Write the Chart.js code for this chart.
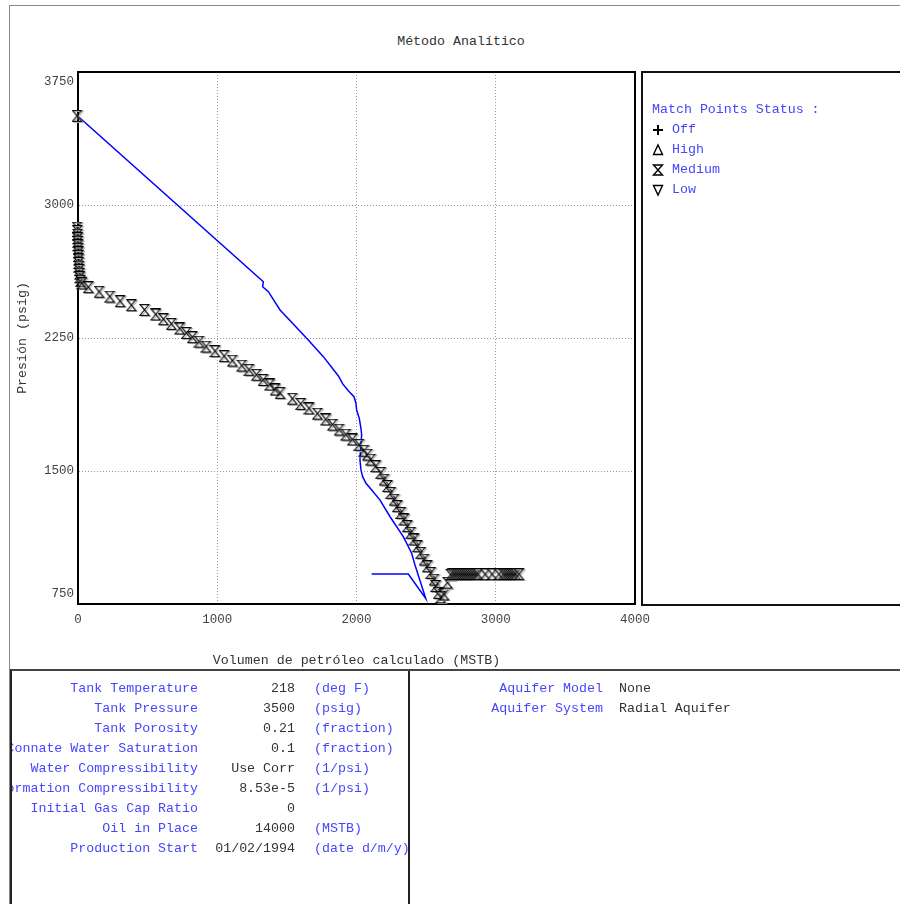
<!DOCTYPE html>
<html>
<head>
<meta charset="utf-8">
<script src="https://cdn.jsdelivr.net/npm/chart.js@4.4.1/dist/chart.umd.min.js"></script>
<style>
  html, body { margin:0; padding:0; background:#fff; }
  body { width:900px; height:904px; position:relative; overflow:hidden; font-family:'Liberation Mono', monospace; }
  .abs { position:absolute; }
  .t { position:absolute; font-size:13.3px; line-height:20px; white-space:pre; }
  .lbl { color:#4646ff; }
  .val { color:#333; }
</style>
</head>
<body>
<div class="abs" style="left:9px;top:5px;width:1px;height:899px;background:#888"></div>
<div class="abs" style="left:9px;top:5px;width:891px;height:1px;background:#888"></div>
<div class="abs" style="left:0;top:34px;width:922px;text-align:center;font-size:13.3px;color:#333">Método Analítico</div>

<div class="abs" style="left:0;top:0;width:670px;height:670px"><canvas id="c" width="670" height="670" style="width:670px;height:670px"></canvas></div>

<div class="abs" style="left:641px;top:71px;width:300px;height:531px;border:2px solid #111;border-right:none">
  <div class="t lbl" style="left:9px;top:27px">Match Points Status :</div>
  <svg class="abs" style="left:8px;top:50px" width="14" height="14"><path d="M7 2 V12 M2 7 H12" stroke="#000" stroke-width="2" fill="none"/></svg>
  <div class="t lbl" style="left:29px;top:47px">Off</div>
  <svg class="abs" style="left:8px;top:70px" width="14" height="14"><path d="M7 2 L11.5 11.5 H2.5 Z" stroke="#000" stroke-width="1.4" fill="none"/></svg>
  <div class="t lbl" style="left:29px;top:67px">High</div>
  <svg class="abs" style="left:8px;top:90px" width="14" height="14"><path d="M2.5 2 H11.5 L2.5 12 H11.5 Z" stroke="#000" stroke-width="1.4" fill="none"/></svg>
  <div class="t lbl" style="left:29px;top:87px">Medium</div>
  <svg class="abs" style="left:8px;top:110px" width="14" height="14"><path d="M2.5 2.5 H11.5 L7 12 Z" stroke="#000" stroke-width="1.4" fill="none"/></svg>
  <div class="t lbl" style="left:29px;top:107px">Low</div>
</div>

<div class="abs" id="boxL" style="left:10px;top:669px;width:396px;height:260px;border-left:2px solid #222;border-top:2px solid #444;border-right:2px solid #222;overflow:hidden"></div>
<div class="abs" id="boxR" style="left:408px;top:669px;width:500px;height:260px;border-top:2px solid #444;overflow:hidden"></div>

<script>
// ---------- data ----------
const tableLabels = ['Tank Temperature','Tank Pressure','Tank Porosity','Connate Water Saturation','Water Compressibility','Formation Compressibility','Initial Gas Cap Ratio','Oil in Place','Production Start'];
const tableValues = ['218','3500','0.21','0.1','Use Corr','8.53e-5','0','14000','01/02/1994'];
const tableUnits  = ['(deg F)','(psig)','(fraction)','(fraction)','(1/psi)','(1/psi)','','(MSTB)','(date d/m/y)'];
const aquiferLabels = ['Aquifer Model','Aquifer System'];
const aquiferValues = ['None','Radial Aquifer'];

const xTicks = [0, 1000, 2000, 3000, 4000];
const yTicks = [750, 1500, 2250, 3000, 3750];

// match points (Medium status): volume MSTB, pressure psig
const matchVolume = [0,
  0,2,4,5,6,7,8,9,10,11,12,14,16,18,20,25,35,
  81,158,235,309,390,484,565,620,677,737,785,828,876,926,991,1056,1115,1183,1235,1288,1336,1384,1422,1458,
  1546,1606,1666,1726,1786,1834,1882,1930,1977,2025,2061,2085,2109,2145,2181,2205,2229,2253,2277,2300,2325,
  2348,2372,2396,2420,2444,2468,2492,2515,2540,2564,2576,2594,2612,2636,2660,2683,
  2700,2715,2730,2745,2760,2775,2790,2805,2820,2835,2850,2865,2880,2930,2980,3030,3060,3075,3090,3105,3120,3135,3150,3174];
const matchPressure = [3500,
  2870,2850,2830,2810,2790,2770,2750,2730,2710,2690,2670,2650,2630,2610,2590,2570,2555,
  2534,2508,2481,2455,2432,2406,2380,2353,2327,2301,2276,2252,2227,2199,2173,2145,2120,2092,2068,2040,2011,1985,1957,1938,
  1905,1876,1850,1821,1788,1759,1731,1703,1675,1645,1612,1590,1562,1524,1487,1449,1412,1374,1336,1299,1261,
  1224,1186,1149,1111,1073,1036,998,960,923,885,848,810,785,801,868,913,
  915,915,915,915,915,915,915,915,915,915,915,915,915,915,915,915,915,915,915,915,915,915,915,915];

// calculated (analytic) pressure vs volume
const calcVolume = [0,1331,1326,1367,1451,1642,1762,1870,1901,1941,1982,1996,2001,2020,2032,2037,2030,2025,2032,2044,2068,2109,2169,2241,2336,2396,2420,2497,2372,2109];
const calcPressure = [3500,2567,2539,2511,2408,2248,2145,2036,1991,1953,1919,1882,1844,1797,1741,1703,1637,1562,1506,1468,1431,1393,1336,1242,1130,1036,970,782,919,919];

// ---------- tables (HTML text) ----------
const boxL = document.getElementById('boxL');
tableLabels.forEach((s,i) => {
  const top = 8 + i*20;
  boxL.insertAdjacentHTML('beforeend',
    `<div class="t lbl" style="left:-200px;width:386px;text-align:right;top:${top}px">${s}</div>` +
    `<div class="t val" style="left:0;width:283px;text-align:right;top:${top}px">${tableValues[i]}</div>` +
    `<div class="t lbl" style="left:302px;top:${top}px">${tableUnits[i]}</div>`);
});
const boxR = document.getElementById('boxR');
aquiferLabels.forEach((s,i) => {
  const top = 8 + i*20;
  boxR.insertAdjacentHTML('beforeend',
    `<div class="t lbl" style="left:0;width:195px;text-align:right;top:${top}px">${s}</div>` +
    `<div class="t val" style="left:211px;top:${top}px">${aquiferValues[i]}</div>`);
});

// ---------- hourglass marker ----------
const pm = document.createElement('canvas');
pm.width = 13; pm.height = 13;
const g = pm.getContext('2d');
function hg(ox, oy, col, lw) {
  g.beginPath();
  g.moveTo(ox, oy); g.lineTo(ox + 9, oy); g.lineTo(ox, oy + 11); g.lineTo(ox + 9, oy + 11); g.closePath();
  g.strokeStyle = col; g.lineWidth = lw; g.stroke();
}
hg(2.5, 1.5, '#b0b0b0', 1.1);
hg(1, 0.5, '#000', 1.1);

// ---------- chart ----------
Chart.defaults.font.family = "'Liberation Mono', monospace";
const frame = {
  id: 'frame',
  beforeDatasetsDraw(chart) {
    const {ctx, chartArea: a} = chart;
    ctx.save();
    ctx.strokeStyle = '#000';
    ctx.lineWidth = 2;
    ctx.strokeRect(a.left, a.top, a.right - a.left, a.bottom - a.top);
    ctx.restore();
  }
};

new Chart(document.getElementById('c'), {
  type: 'scatter',
  data: {
    datasets: [
      {
        label: 'Calculado',
        data: calcVolume.map((v, i) => ({x: v, y: calcPressure[i]})),
        showLine: true,
        borderColor: '#0000ff',
        borderWidth: 1.5,
        pointRadius: 0,
        tension: 0,
        order: 2
      },
      {
        label: 'Medium',
        data: matchVolume.map((v, i) => ({x: v, y: matchPressure[i]})),
        showLine: false,
        pointStyle: pm,
        pointRadius: 6,
        clip: 10,
        order: 1
      }
    ]
  },
  options: {
    responsive: false,
    devicePixelRatio: 1,
    animation: false,
    events: [],
    layout: { autoPadding: false, padding: { top: 72, right: 35, left: 0, bottom: 0 } },
    plugins: { legend: { display: false }, tooltip: { enabled: false } },
    scales: {
      x: {
        type: 'linear',
        min: 0, max: 4000,
        afterBuildTicks: s => { s.ticks = xTicks.map(v => ({value: v})); },
        afterFit: s => { s.height = 66; s.paddingLeft = 0; s.paddingRight = 0; },
        ticks: { color: '#444', font: { size: 12.5 }, padding: 8, callback: v => String(v) },
        grid: { color: '#999', drawTicks: false, lineWidth: 1 },
        border: { display: true, color: '#000', width: 2, dash: [1, 2] },
        title: { display: true, text: 'Volumen de petróleo calculado (MSTB)', color: '#333', font: { size: 13.3 }, padding: { top: 0, bottom: 2 } }
      },
      y: {
        type: 'linear',
        min: 750, max: 3750,
        afterBuildTicks: s => { s.ticks = yTicks.map(v => ({value: v})); },
        afterFit: s => { s.width = 78; s.paddingTop = 0; s.paddingBottom = 0; },
        ticks: {
          color: '#444', font: { size: 12.5, lineHeight: 1.6 }, padding: 4,
          callback: v => v === 3750 ? ['', '3750'] : (v === 750 ? ['750', ''] : String(v))
        },
        grid: { color: '#999', drawTicks: false, lineWidth: 1 },
        border: { display: true, color: '#000', width: 2, dash: [1, 2] },
        title: { display: true, text: 'Presión (psig)', color: '#333', font: { size: 13.3 }, padding: { top: 14, bottom: 0 } }
      }
    }
  },
  plugins: [frame]
});
</script>
</body>
</html>
